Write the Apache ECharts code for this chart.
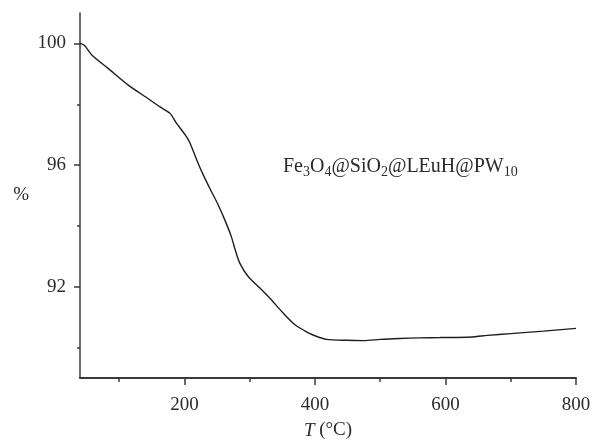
<!DOCTYPE html>
<html>
<head>
<meta charset="utf-8">
<script src="https://cdn.jsdelivr.net/npm/echarts@6/dist/echarts.min.js"></script>
<style>
  html, body { margin: 0; padding: 0; background: #fff; }
  #chart { width: 592px; height: 440px; }
</style>
</head>
<body>
<div id="chart"></div>
<script>
// Thermogravimetric curve: temperature (°C) vs. residual mass (%)
const temperature = [40, 47, 58, 83, 114, 144, 162, 178, 188, 201, 208, 219, 229, 239, 252, 262, 272, 278, 285, 298, 316, 331, 352, 370, 387, 400, 418, 449, 475, 500, 530, 561, 592, 640, 664, 700, 750, 800];
const massPercent = [100, 99.93, 99.62, 99.18, 98.63, 98.19, 97.92, 97.70, 97.37, 97.0, 96.75, 96.16, 95.67, 95.23, 94.68, 94.19, 93.64, 93.2, 92.77, 92.33, 91.95, 91.62, 91.12, 90.74, 90.52, 90.39, 90.27, 90.24, 90.23, 90.27, 90.30, 90.32, 90.33, 90.35, 90.40, 90.46, 90.54, 90.63];

const xMajorTicks = [200, 400, 600, 800];
const xMinorTicks = [100, 300, 500, 700];
const yMajorTicks = [92, 96, 100];
const yMinorTicks = [90, 94, 98];

const sampleLabel = '{n|Fe}{s|3}{n|O}{s|4}{n|@SiO}{s|2}{n|@LEuH@PW}{s|10}';

const serif = '"Liberation Serif", "DejaVu Serif", serif';
const axisColor = '#3a3a3a';
const textColor = '#2b2b2b';

const chart = echarts.init(document.getElementById('chart'), null, { renderer: 'canvas' });

const xBase = { type: 'value', min: 40, max: 800, splitLine: { show: false } };
const yBase = { type: 'value', min: 89, max: 101, splitLine: { show: false } };

chart.setOption({
  backgroundColor: '#fff',
  animation: false,
  grid: { left: 80, right: 16, top: 13, bottom: 62, containLabel: false, outerBoundsMode: 'none' },
  xAxis: [
    Object.assign({}, xBase, {
      name: '{i|T} ({n|°C})',
      nameLocation: 'middle',
      nameGap: 43,
      nameTextStyle: {
        color: textColor, fontFamily: serif, fontSize: 19,
        rich: {
          i: { fontStyle: 'italic', fontFamily: serif, fontSize: 19, color: textColor },
          n: { fontFamily: serif, fontSize: 19, color: textColor }
        }
      },
      axisLine: { show: true, onZero: false, lineStyle: { color: axisColor, width: 2 } },
      axisTick: { show: true, inside: false, length: 7, customValues: xMajorTicks, lineStyle: { color: axisColor, width: 1.5 } },
      axisLabel: { show: true, margin: 18, customValues: xMajorTicks, color: textColor, fontFamily: serif, fontSize: 19 }
    }),
    Object.assign({}, xBase, {
      gridIndex: 0,
      position: 'bottom',
      axisLine: { show: false },
      axisTick: { show: true, inside: false, length: 4, customValues: xMinorTicks, lineStyle: { color: axisColor, width: 1.5 } },
      axisLabel: { show: false }
    })
  ],
  yAxis: [
    Object.assign({}, yBase, {
      name: '%',
      nameLocation: 'middle',
      nameRotate: 0,
      nameGap: 51,
      nameTextStyle: { color: textColor, fontFamily: serif, fontSize: 19 },
      axisLine: { show: true, onZero: false, lineStyle: { color: axisColor, width: 1.5 } },
      axisTick: { show: true, inside: false, length: 6, customValues: yMajorTicks, lineStyle: { color: axisColor, width: 1.5 } },
      axisLabel: { show: true, margin: 14, customValues: yMajorTicks, color: textColor, fontFamily: serif, fontSize: 19 }
    }),
    Object.assign({}, yBase, {
      gridIndex: 0,
      position: 'left',
      axisLine: { show: false },
      axisTick: { show: true, inside: false, length: 3, customValues: yMinorTicks, lineStyle: { color: axisColor, width: 1.5 } },
      axisLabel: { show: false }
    })
  ],
  graphic: [{
    type: 'text',
    left: 283,
    top: 157,
    style: {
      text: sampleLabel,
      fill: textColor,
      font: '20px ' + serif,
      rich: {
        n: { fontSize: 20, fontFamily: serif, lineHeight: 22, verticalAlign: 'top', fill: textColor, color: textColor },
        s: { fontSize: 14, fontFamily: serif, lineHeight: 14, verticalAlign: 'bottom', fill: textColor, color: textColor }
      }
    }
  }],
  series: [{
    type: 'line',
    xAxisIndex: 0,
    yAxisIndex: 0,
    data: temperature.map((t, i) => [t, massPercent[i]]),
    showSymbol: false,
    smooth: 0.25,
    lineStyle: { color: '#1e1e1e', width: 1.4 },
    silent: true
  }]
});
</script>
</body>
</html>
